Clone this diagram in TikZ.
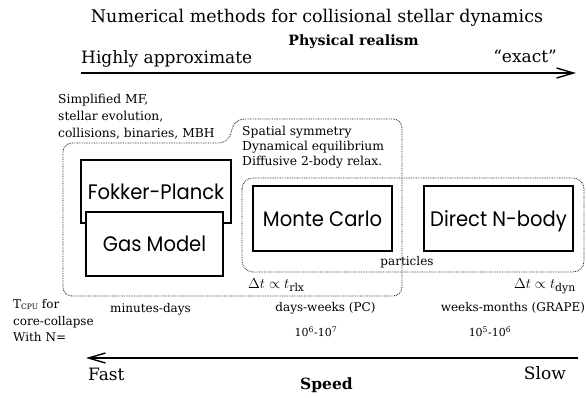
\documentclass[tikz,border=0pt]{standalone}
\usepackage{fontspec}
\setmainfont{DejaVu Serif}
\newfontfamily\boxfont[FakeStretch=0.93]{Poppins}
\usetikzlibrary{arrows.meta}
\begin{document}
\begin{tikzpicture}[x=1pt,y=-1pt,
  method/.style={draw, line width=1.2pt, font=\boxfont\fontsize{21}{24}\selectfont, inner sep=0pt, text depth=0pt, anchor=center},
  region/.style={draw=black!85, line width=0.8pt, dash pattern=on 0.8pt off 0.9pt, rounded corners=9pt},
  axis/.style={line width=2.2pt, -{Straight Barb[length=17pt,width=10pt,line width=1.4pt]}},
  big/.style={font=\fontsize{17.5}{20}\selectfont, inner sep=0pt},
  small/.style={font=\fontsize{12}{14}\selectfont, inner sep=0pt},
  note/.style={font=\fontsize{12.3}{14}\selectfont, inner sep=0pt},
  nums/.style={font=\fontsize{11}{13}\selectfont, inner sep=0pt},
  head/.style={font=\bfseries\fontsize{14.2}{17}\selectfont, inner sep=0pt},
  mathlbl/.style={font=\fontsize{15.5}{18}\selectfont, inner sep=0pt},
]
\useasboundingbox (0,0) rectangle (586,397);

% top
\node[big, anchor=base] (title) at (317,22) {Numerical methods for collisional stellar dynamics};
\node[head, anchor=base] (realism) at (353.5,45) {Physical realism};
\node[big, font=\fontsize{17}{20}\selectfont, anchor=base west] (approx) at (81,63) {Highly approximate};
\node[big, font=\fontsize{17}{20}\selectfont, anchor=base east] (exact) at (557,62) {“exact”};
\coordinate (r0) at (81,73);
\coordinate (r1) at (576,73);
\draw[axis] (r0) -- (r1);

% annotations
\node[note, anchor=base west] (mf1) at (58,103) {Simplified MF,};
\node[note, anchor=base west] (mf2) at (58,120) {stellar evolution,};
\node[note, anchor=base west] (mf3) at (58,137) {collisions, binaries, MBH};
\node[note, anchor=base west] (sy1) at (242,135) {Spatial symmetry};
\node[note, anchor=base west] (sy2) at (242,150) {Dynamical equilibrium};
\node[note, anchor=base west] (sy3) at (242,165) {Diffusive 2-body relax.};

% regions
\draw[region] (200,296) -- (63,296) -- (63,143) -- (228,143) -- (235,119) -- (402,119) -- (402,296) -- cycle;
\draw[region, rounded corners=11pt] (242,178) rectangle (584,272);

% methods
\node[method, minimum width=150pt, minimum height=63pt] (fp) at (156,191.5) {Fokker-Planck};
\node[method, fill=white, minimum width=137pt, minimum height=64pt] (gas) at (154.5,244) {Gas Model};
\node[method, minimum width=139pt, minimum height=65pt] (mc) at (322.5,218.5) {Monte Carlo};
\node[method, minimum width=149pt, minimum height=65pt] (nb) at (498.5,218.5) {Direct N-body};

\node[small, anchor=base] (part) at (407,265) {particles};
\node[mathlbl, anchor=base west] (dtr) at (248,288) {$\Delta t\propto t_{\mathrm{rlx}}$};
\node[mathlbl, anchor=base east] (dtd) at (576,288) {$\Delta t\propto t_{\mathrm{dyn}}$};

% bottom
\node[small, anchor=base west] (t1) at (13,308) {T\raisebox{-1.5pt}{\fontsize{7.5}{8}\selectfont CPU} for};
\node[small, anchor=base west] (t2) at (13,325) {core-collapse};
\node[small, anchor=base west] (t3) at (13,341) {With N=};
\node[small, anchor=base] (m1) at (150.5,312) {minutes-days};
\node[small, anchor=base] (m2) at (325.5,311) {days-weeks (PC)};
\node[small, anchor=base] (m3) at (513,311) {weeks-months (GRAPE)};
\node[nums, anchor=base] (n2) at (316,336) {10\textsuperscript{6}-10\textsuperscript{7}};
\node[nums, anchor=base] (n3) at (490,336) {10\textsuperscript{5}-10\textsuperscript{6}};
\coordinate (s0) at (578,358);
\coordinate (s1) at (86,358);
\draw[axis] (s0) -- (s1);
\node[big, font=\fontsize{17}{20}\selectfont, anchor=base west] (fast) at (88,380) {Fast};
\node[big, font=\fontsize{17}{20}\selectfont, anchor=base east] (slow) at (566,379) {Slow};
\node[head, font=\bfseries\fontsize{15.5}{18}\selectfont, anchor=base] (speed) at (326.5,389) {Speed};
\end{tikzpicture}
\end{document}
